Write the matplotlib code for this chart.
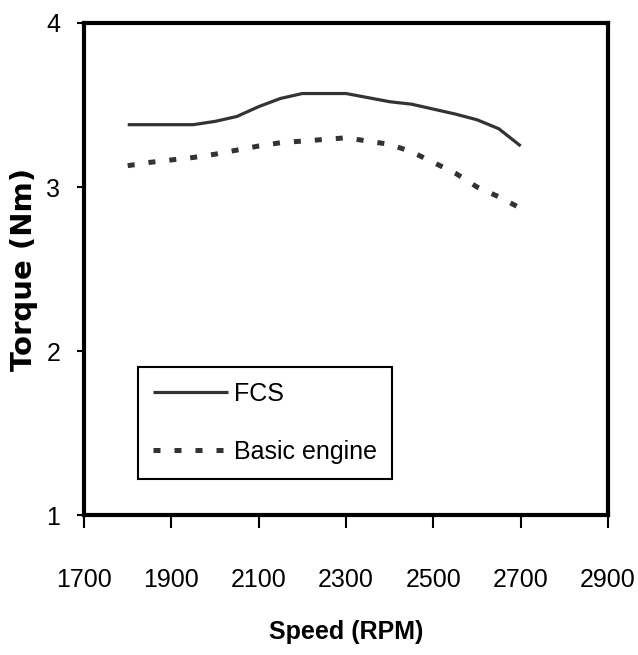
import matplotlib
matplotlib.use("Agg")
import matplotlib.pyplot as plt
from matplotlib import font_manager

rpm = [1800, 1850, 1900, 1950, 2000, 2050, 2100, 2150, 2200, 2250,
       2300, 2350, 2400, 2450, 2500, 2550, 2600, 2650, 2700]
fcs = [3.38, 3.38, 3.38, 3.38, 3.40, 3.43, 3.49, 3.54, 3.57, 3.57,
       3.57, 3.545, 3.52, 3.505, 3.475, 3.445, 3.41, 3.355, 3.25]
basic = [3.13, 3.15, 3.165, 3.18, 3.20, 3.225, 3.25, 3.27, 3.28, 3.29,
         3.30, 3.28, 3.26, 3.215, 3.15, 3.085, 3.0, 2.94, 2.87]
xticks = [1700, 1900, 2100, 2300, 2500, 2700, 2900]
yticks = [1, 2, 3, 4]

names = {f.name for f in font_manager.fontManager.ttflist}
narrow_found = [n for n in ['Liberation Sans Narrow', 'Arial Narrow', 'DejaVu Sans Condensed']
                if n in names]
narrow = narrow_found + ['Liberation Sans', 'DejaVu Sans']
tick_size = 20 if narrow_found else 18

fig = plt.figure(figsize=(6.38, 6.55), dpi=100)
ax = fig.add_axes([0.1317, 0.2137, 0.8213, 0.7512])

ax.plot(rpm, fcs, color='#333333', lw=2.3, label='FCS', solid_capstyle='butt')
ax.plot(rpm, basic, color='#333333', lw=3.6, linestyle=(0, (1.4, 2.8)),
        label='Basic engine')

ax.set_xlim(1700, 2900)
ax.set_ylim(1, 4)
ax.set_xticks(xticks)
ax.set_yticks(yticks)
ax.set_xticklabels([str(v) for v in xticks], family=narrow, fontsize=tick_size)
ax.set_yticklabels([str(v) for v in yticks], family=narrow, fontsize=tick_size)
ax.tick_params(axis='x', direction='out', length=9, width=1.5, pad=29)
ax.tick_params(axis='y', direction='out', length=5, width=1.5, pad=12)

for s in ax.spines.values():
    s.set_linewidth(3)
    s.set_color('black')

ax.set_xlabel('Speed (RPM)', family=narrow, fontsize=tick_size, fontweight='bold', labelpad=20)
ax.set_ylabel('Torque (Nm)', family=['DejaVu Sans'], fontsize=21, fontweight='bold', labelpad=6)

leg = ax.legend(loc='lower left', bbox_to_anchor=(0.103, 0.073), borderaxespad=0,
                prop={'family': narrow, 'size': tick_size}, handlelength=3.0,
                labelspacing=1.36, fancybox=False, framealpha=1,
                edgecolor='black', borderpad=0.6, handletextpad=0.25)
leg.get_frame().set_linewidth(1.5)

fig.savefig('out.png', dpi=100)
